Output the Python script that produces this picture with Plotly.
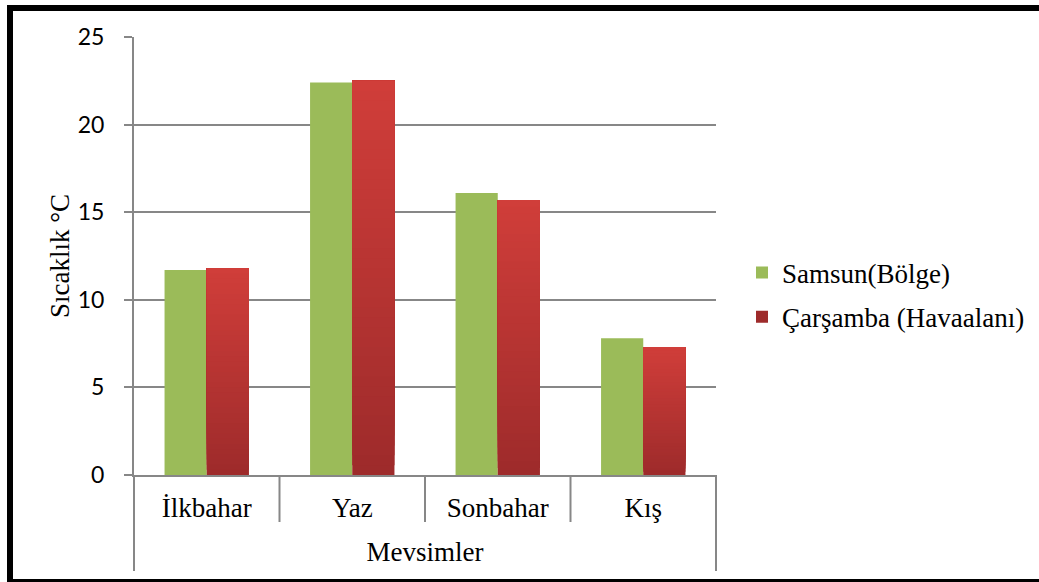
import plotly.graph_objects as go

categories = ["İlkbahar", "Yaz", "Sonbahar", "Kış"]
samsun = [11.7, 22.4, 16.1, 7.8]
carsamba = [11.8, 22.5, 15.7, 7.3]
series_names = ["Samsun(Bölge)", "Çarşamba (Havaalanı)"]
y_ticks = [0, 5, 10, 15, 20, 25]

W, H = 1039, 582
L, R, T, B = 134, 323, 37, 107
pw, ph = W - L - R, H - T - B

def px_x(p):
    return (p - L) / pw

def px_y(p):
    return (H - B - p) / ph

GREEN = "#9BBB59"
GRID = "#878787"
bottom_rgb = (158, 43, 43)
top_rgb = (209, 62, 58)

fig = go.Figure()
fig.add_trace(go.Bar(
    x=categories, y=samsun, name=series_names[0], marker_color=GREEN,
    marker_line_width=0, offsetgroup="g", legendgroup="g",
))

N = 40
for i in range(N):
    t = i / N
    c = tuple(round(bottom_rgb[k] + (top_rgb[k] - bottom_rgb[k]) * t) for k in range(3))
    fig.add_trace(go.Bar(
        x=categories,
        y=[v * (1 - t) for v in carsamba],
        base=[v * t for v in carsamba],
        name=series_names[1],
        marker_color="rgb(%d,%d,%d)" % c,
        marker_line_width=0,
        offsetgroup="r", legendgroup="r",
        showlegend=(i == 0),
        hoverinfo="skip" if i > 0 else None,
    ))

serif = "Liberation Serif"
sans = "Lato"
FS = 27

fig.update_layout(
    width=W, height=H,
    margin=dict(l=L, r=R, t=T, b=B, pad=0, autoexpand=False),
    paper_bgcolor="white", plot_bgcolor="white",
    barmode="group", bargap=0.42, bargroupgap=0,
    showlegend=True,
    legend=dict(
        x=px_x(742), xanchor="left", y=px_y(295), yanchor="middle",
        font=dict(family=serif, size=FS, color="black"),
        tracegroupgap=6, bgcolor="rgba(0,0,0,0)", traceorder="grouped",
    ),
    xaxis=dict(
        showline=True, linecolor=GRID, linewidth=2,
        showgrid=False, ticks="", ticklabelstandoff=8,
        tickfont=dict(family=serif, size=FS, color="black"),
        title=dict(text="Mevsimler", font=dict(family=serif, size=FS, color="black"), standoff=20),
    ),
    yaxis=dict(
        range=[0, 25], tickvals=y_ticks, showline=True, linecolor=GRID, linewidth=2,
        showgrid=True, gridcolor=GRID, gridwidth=2, zeroline=False,
        ticks="outside", ticklen=8, tickcolor=GRID, tickwidth=2, ticklabelstandoff=15,
        tickfont=dict(family=sans, size=23, color="black"),
        title=dict(text="Sıcaklık °C", font=dict(family=serif, size=FS, color="black"), standoff=0),
    ),
)

shapes = []
# category dividers
for b in [0.5, 1.5, 2.5]:
    shapes.append(dict(type="line", xref="x", yref="paper", x0=b, x1=b,
                       y0=0, y1=px_y(522), line=dict(color=GRID, width=2)))
# outer group lines
for xp in [0, 1]:
    shapes.append(dict(type="line", xref="paper", yref="paper", x0=xp, x1=xp,
                       y0=0, y1=px_y(571), line=dict(color=GRID, width=2)))
# figure border (top, left, bottom)
shapes.append(dict(type="line", xref="paper", yref="paper", x0=px_x(7), x1=px_x(1045),
                   y0=px_y(8), y1=px_y(8), line=dict(color="black", width=6)))
shapes.append(dict(type="line", xref="paper", yref="paper", x0=px_x(10), x1=px_x(10),
                   y0=px_y(5), y1=px_y(590), line=dict(color="black", width=6)))
shapes.append(dict(type="line", xref="paper", yref="paper", x0=px_x(7), x1=px_x(1045),
                   y0=px_y(580.5), y1=px_y(580.5), line=dict(color="black", width=3)))
fig.update_layout(shapes=shapes)

fig.write_html("out.html")
